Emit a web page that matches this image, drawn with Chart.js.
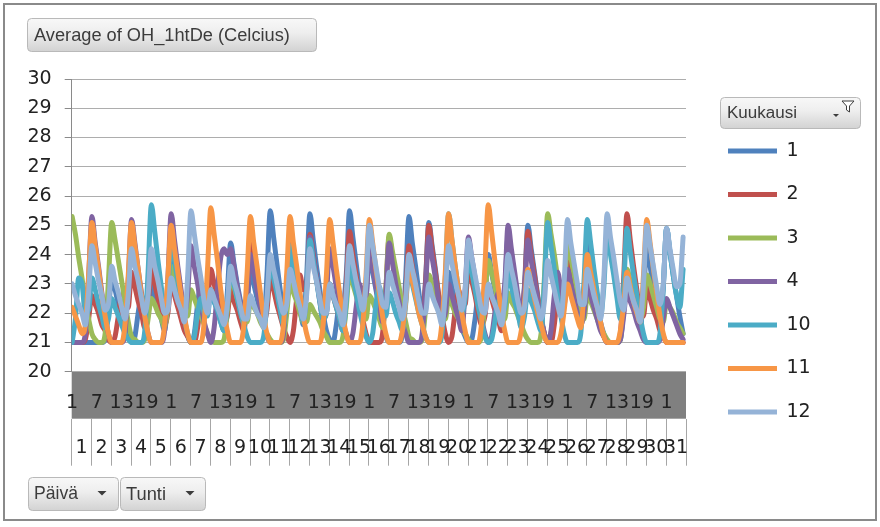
<!DOCTYPE html>
<html>
<head>
<meta charset="utf-8">
<script src="https://cdn.jsdelivr.net/npm/chart.js@4.4.1/dist/chart.umd.min.js"></script>
<style>
  html, body { margin: 0; padding: 0; background: #ffffff; }
  #wrap { width: 880px; height: 527px; position: relative; }
</style>
</head>
<body>
<div id="wrap"><canvas id="c" width="880" height="527"></canvas></div>
<script>
// Months shown as series (Kuukausi) and their colours
const months = ['1', '2', '3', '4', '10', '11', '12'];
const seriesColors = ['#4F81BD', '#C0504D', '#9BBB59', '#8064A2', '#4BACC6', '#F79646', '#95B3D7'];

// Category labels: days of month (Päivä) and hours of day (Tunti)
const dayLabels = ['1','2','3','4','5','6','7','8','9','10','11','12','13','14','15','16',
  '17','18','19','20','21','22','23','24','25','26','27','28','29','30','31'];
const hourLabels = ['1','2','3','4','5','6','7','8','9','10','11','12','13','14','15','16',
  '17','18','19','20','21','22','23','24'];
// hour-category positions that carry a label (every 30th hour)
const hourTickPositions = [0,30,60,90,120,150,180,210,240,270,300,330,360,390,420,450,
  480,510,540,570,600,630,660,690,720];
// readings per day taken at these hours
const sampleHours = [1, 5, 9, 13, 17, 21];

// Average temperature (°C), one row per day, values at sampleHours
const m1 = [
  21.0,21.0,21.0,21.0,21.0,21.0,  21.0,21.0,21.0,21.0,21.1,22.1,
  23.2,22.8,22.3,21.9,21.5,21.2,  21.0,21.2,22.0,22.6,22.3,22.0,
  23.0,22.6,22.2,21.8,21.4,22.6,  24.1,23.5,22.9,22.2,21.7,21.2,
  21.0,21.3,22.3,23.0,22.5,22.2,  22.8,22.4,22.1,21.7,21.4,22.7,
  24.4,23.7,23.0,22.4,21.7,22.3,  23.5,23.0,22.5,22.0,21.6,23.3,
  25.5,24.6,23.7,22.8,22.0,22.5,  23.9,23.3,22.7,22.2,21.6,23.2,
  25.4,24.5,23.6,22.8,22.0,21.4,  21.1,21.0,21.6,22.4,22.3,23.3,
  25.5,24.6,23.7,22.8,22.0,22.5,  24.0,23.4,22.8,22.2,21.7,21.2,
  21.0,21.0,21.0,21.0,21.3,23.2,  25.3,24.4,23.6,22.7,21.9,23.1,
  25.1,24.3,23.5,22.6,21.9,22.2,  23.4,22.9,22.4,22.0,21.5,21.2,
  21.0,21.1,21.8,22.6,22.2,22.5,  24.0,23.4,22.8,22.2,21.7,22.8,
  24.6,23.9,23.2,22.4,21.8,23.0,  25.0,24.2,23.4,22.6,21.9,21.3,
  21.0,21.3,22.2,22.9,22.4,22.4,  23.8,23.2,22.7,22.1,21.6,22.7,
  24.4,23.7,23.0,22.4,21.7,21.3,  21.0,21.0,21.0,21.0,21.1,22.1,
  23.2,22.8,22.3,21.9,21.5,22.6,  24.2,23.6,22.9,22.3,21.7,22.9,
  24.9,24.1,23.3,22.6,21.9,21.3
];
const m2 = [
  21.0,21.0,21.0,21.0,21.1,21.8,  22.6,22.3,22.0,21.6,21.4,21.1,
  21.0,21.2,21.9,22.6,22.2,22.2,  23.4,22.9,22.4,22.0,21.5,22.3,
  23.5,23.0,22.5,22.0,21.6,22.0,  23.0,22.6,22.2,21.8,21.4,21.2,
  21.0,21.0,21.5,22.3,21.9,22.3,  23.5,23.0,22.5,22.0,21.6,21.9,
  22.8,22.4,22.1,21.7,21.4,22.7,  24.4,23.7,23.0,22.4,21.7,22.1,
  23.2,22.8,22.3,21.9,21.5,21.2,  21.0,21.4,22.5,23.3,22.8,22.9,
  24.7,24.0,23.2,22.5,21.8,22.0,  23.0,22.6,22.2,21.8,21.4,22.9,
  24.8,24.0,23.3,22.5,21.8,21.3,  21.0,21.0,21.0,21.0,21.3,22.8,
  24.6,23.9,23.2,22.4,21.8,22.7,  24.3,23.6,23.0,22.3,21.7,23.0,
  25.0,24.2,23.4,22.6,21.9,21.3,  21.0,21.2,22.1,22.8,22.3,22.3,
  23.6,23.1,22.6,22.0,21.6,21.9,  22.9,22.5,22.1,21.8,21.4,22.5,
  24.0,23.4,22.8,22.2,21.7,22.9,  24.8,24.0,23.3,22.5,21.8,21.3,
  21.0,21.0,21.6,22.5,22.2,22.6,  24.2,23.6,22.9,22.3,21.7,22.2,
  23.3,22.8,22.4,21.9,21.5,21.2,  21.0,21.0,21.0,21.0,21.3,23.2,
  25.4,24.5,23.6,22.8,22.0,21.9,  22.9,22.5,22.1,21.8,21.4,21.2,
  21.0,21.0,21.0,21.0,21.0,21.0
];
const m3 = [
  25.3,24.7,23.9,23.2,22.4,21.8,  21.3,21.1,21.0,21.0,21.3,23.1,
  25.1,24.5,23.8,23.1,22.4,21.7,  21.2,21.1,21.0,21.0,21.1,21.8,
  22.5,22.3,22.0,21.8,21.5,22.3,  23.6,23.2,22.8,22.3,21.9,21.9,
  22.8,22.5,22.2,21.9,21.6,21.3,  21.1,21.0,21.0,21.0,21.1,22.1,
  23.2,22.9,22.5,22.1,21.7,21.7,  22.4,22.2,22.0,21.7,21.5,21.3,
  21.1,21.0,21.0,21.0,21.1,22.0,  23.0,22.7,22.4,22.0,21.7,21.7,
  22.3,22.1,21.9,21.7,21.4,21.2,  21.0,21.0,21.0,21.0,21.2,22.2,
  23.4,23.0,22.6,22.2,21.8,21.8,  22.6,22.4,22.1,21.8,21.5,22.8,
  24.7,24.1,23.5,22.9,22.2,21.7,  21.2,21.1,21.0,21.0,21.1,22.1,
  23.3,23.0,22.6,22.2,21.8,21.8,  22.5,22.3,22.0,21.8,21.5,21.3,
  21.1,21.0,21.0,21.0,21.2,22.4,  23.8,23.4,22.9,22.4,21.9,21.8,
  22.7,22.4,22.2,21.9,21.6,21.3,  21.1,21.0,21.0,21.0,21.3,23.2,
  25.4,24.7,24.0,23.2,22.4,22.7,  24.4,23.9,23.3,22.7,22.1,21.8,
  22.6,22.4,22.1,21.8,21.5,21.3,  21.1,21.0,21.0,21.0,21.1,22.3,
  23.5,23.1,22.7,22.3,21.8,22.2,  23.3,23.0,22.6,22.2,21.8,21.7,
  22.4,22.2,22.0,21.7,21.5,21.3
];
const m4 = [
  21.0,21.0,21.0,21.0,21.3,23.2,  25.3,24.4,23.6,22.7,21.9,21.3,
  21.0,21.0,21.0,21.0,21.3,23.1,  25.2,24.4,23.5,22.7,21.9,21.3,
  21.0,21.0,21.0,21.0,21.4,23.2,  25.4,24.5,23.6,22.8,22.0,22.7,
  24.3,23.6,23.0,22.3,21.7,21.3,  21.0,21.5,22.8,23.9,24.2,24.0,
  24.2,23.6,22.9,22.3,21.7,22.5,  24.0,23.4,22.8,22.2,21.7,21.2,
  21.0,21.0,21.0,21.0,21.3,22.9,  24.8,24.0,23.3,22.5,21.8,22.8,
  24.6,23.9,23.2,22.4,21.8,22.6,  24.2,23.6,22.9,22.3,21.7,21.3,
  21.0,21.3,22.2,23.0,22.6,22.6,  24.2,23.6,22.9,22.3,21.7,22.7,
  24.4,23.7,23.0,22.4,21.7,21.3,  21.0,21.0,21.0,21.0,21.3,22.8,
  24.6,23.9,23.2,22.4,21.8,22.0,  23.0,22.6,22.2,21.8,21.4,22.8,
  24.6,23.9,23.2,22.4,21.8,21.3,  21.0,21.2,22.0,22.7,22.4,23.0,
  25.0,24.2,23.4,22.6,21.9,22.8,  24.5,23.8,23.1,22.4,21.8,21.3,
  21.0,21.4,22.6,23.4,22.8,22.3,  23.5,23.0,22.5,22.0,21.6,22.0,
  23.0,22.6,22.2,21.8,21.4,21.2,  21.0,21.0,21.0,21.0,21.1,21.9,
  22.8,22.4,22.1,21.7,21.4,21.1,  21.0,21.0,21.0,21.0,21.1,21.8,
  22.5,22.2,21.9,21.6,21.3,21.1
];
const m10 = [
  21.0,21.8,23.2,23.0,22.0,22.1,  23.2,22.8,22.3,21.9,21.5,21.8,
  22.5,22.2,21.9,21.6,21.3,21.1,  21.0,21.0,21.0,21.0,21.4,23.4,
  25.7,24.8,23.8,22.9,22.0,22.8,  24.5,23.8,23.1,22.4,21.8,21.3,
  21.0,21.2,22.0,22.5,22.0,21.9,  22.8,22.4,22.1,21.7,21.4,22.3,
  23.5,23.0,22.5,22.0,21.6,21.2,  21.0,21.0,21.0,21.0,21.2,22.4,
  23.8,23.2,22.7,22.1,21.6,22.7,  24.3,23.6,23.0,22.3,21.7,22.8,
  24.5,23.8,23.1,22.4,21.8,22.0,  23.0,22.6,22.2,21.8,21.4,22.4,
  23.8,23.2,22.7,22.1,21.6,21.2,  21.0,21.3,22.3,22.9,22.3,21.9,
  22.7,22.4,22.0,21.7,21.4,22.3,  23.5,23.0,22.5,22.0,21.6,21.2,
  21.0,21.0,21.0,21.0,21.3,23.2,  25.4,24.5,23.6,22.8,22.0,22.5,
  24.0,23.4,22.8,22.2,21.7,21.2,  21.0,21.1,21.7,22.4,22.0,22.2,
  23.4,22.9,22.4,22.0,21.5,21.9,  22.8,22.4,22.1,21.7,21.4,23.0,
  25.1,24.3,23.5,22.6,21.9,21.3,  21.0,21.0,21.0,21.0,21.3,23.1,
  25.2,24.4,23.5,22.7,21.9,22.9,  24.8,24.0,23.3,22.5,21.8,22.9,
  24.9,24.1,23.3,22.6,21.9,21.3,  21.0,21.0,21.0,21.0,21.3,22.9,
  24.9,24.1,23.3,22.6,22.2,23.5
];
const m11 = [
  22.2,21.9,21.6,21.3,21.6,23.3,  25.1,24.3,23.5,22.6,21.9,21.3,
  21.0,21.0,21.0,21.0,21.6,23.3,  25.1,24.3,23.5,22.6,21.9,21.3,
  21.0,21.0,21.0,21.0,21.6,23.2,  25.0,24.2,23.4,22.6,21.9,21.3,
  21.0,21.0,21.0,21.0,21.7,23.5,  25.6,24.7,23.8,22.8,22.0,21.4,
  21.0,21.0,21.0,21.0,21.6,23.4,  25.3,24.4,23.6,22.7,21.9,21.3,
  21.0,21.0,21.0,21.0,21.6,23.4,  25.3,24.4,23.6,22.7,21.9,21.3,
  21.0,21.0,21.0,21.0,21.6,23.3,  25.2,24.4,23.5,22.7,21.9,21.3,
  21.0,21.0,21.0,21.0,21.6,23.3,  25.2,24.4,23.5,22.7,21.9,21.3,
  21.0,21.0,21.0,21.0,21.4,22.4,  23.6,23.1,22.6,22.0,21.6,21.2,
  21.0,21.0,21.0,21.0,21.7,23.4,  25.4,24.5,23.6,22.8,22.0,21.4,
  21.0,21.0,21.0,21.0,21.7,23.6,  25.7,24.8,23.8,22.9,22.0,21.4,
  21.0,21.0,21.0,21.0,21.4,22.4,  23.5,23.0,22.5,22.0,21.6,21.2,
  21.0,21.0,21.0,21.0,21.3,22.1,  23.0,22.6,22.2,21.8,21.5,22.7,
  24.0,23.4,22.8,22.2,21.7,21.2,  21.0,21.0,21.0,21.0,21.4,22.3,
  23.4,22.9,22.4,22.0,21.7,23.3,  25.2,24.4,23.5,22.7,21.9,21.3,
  21.0,21.0,21.0,21.0,21.0,21.0
];
const m12 = [
  23.0,22.6,22.3,22.0,21.6,22.7,  24.3,23.7,23.1,22.6,22.1,22.3,
  23.6,23.1,22.7,22.2,21.8,22.6,  24.2,23.6,23.1,22.5,22.0,22.6,
  24.2,23.6,23.1,22.5,22.0,22.1,  23.2,22.8,22.4,22.1,21.7,23.3,
  25.5,24.7,23.9,23.2,22.4,22.0,  22.8,22.5,22.2,21.9,21.6,22.3,
  23.6,23.1,22.7,22.2,21.8,21.8,  22.6,22.3,22.0,21.8,21.5,22.5,
  24.0,23.5,23.0,22.4,22.0,22.3,  23.5,23.1,22.6,22.2,21.8,22.6,
  24.2,23.6,23.1,22.5,22.0,22.0,  23.0,22.6,22.3,22.0,21.6,22.7,
  24.3,23.7,23.1,22.6,22.1,23.0,  25.0,24.3,23.6,22.9,22.3,22.2,
  23.4,23.0,22.6,22.2,21.8,22.5,  24.0,23.5,23.0,22.4,22.0,22.0,
  23.0,22.6,22.3,22.0,21.6,22.7,  24.3,23.7,23.1,22.6,22.1,22.8,
  24.5,23.9,23.3,22.7,22.1,22.0,  23.0,22.6,22.3,22.0,21.6,22.5,
  24.0,23.5,23.0,22.4,22.0,22.2,  23.4,23.0,22.6,22.2,21.8,22.4,
  23.8,23.3,22.8,22.3,21.9,23.1,  25.2,24.4,23.7,23.0,22.3,22.3,
  23.5,23.1,22.6,22.2,21.8,23.2,  25.4,24.6,23.9,23.1,22.4,22.1,
  23.2,22.8,22.4,22.1,21.7,23.0,  25.0,24.3,23.6,22.9,22.3,23.0,
  24.9,24.2,23.5,22.9,23.0,24.6
];
const monthValues = [m1, m2, m3, m4, m10, m11, m12];

// ---- build datasets: x = hour index within the month (0..743) ----
function toPoints(values) {
  return values.map((v, i) => {
    const day = Math.floor(i / sampleHours.length);
    const hour = sampleHours[i % sampleHours.length];
    return { x: day * 24 + (hour - 1), y: v };
  });
}

const datasets = months.map((m, i) => ({
  label: m,
  data: toPoints(monthValues[i]),
  borderColor: seriesColors[i],
  backgroundColor: seriesColors[i],
  borderWidth: 5,
  borderCapStyle: 'round',
  borderJoinStyle: 'round',
  pointRadius: 0,
  pointHoverRadius: 0,
  fill: false,
  cubicInterpolationMode: 'monotone',
  order: months.length - i,
  xAxisID: 'x',
  yAxisID: 'y'
}));

// ---- decorations: pivot field buttons, grey hour band, frame ----
function fieldButton(ctx, x, y, w, h, text, textX, targetWidth) {
  const g = ctx.createLinearGradient(0, y, 0, y + h);
  g.addColorStop(0, '#F8F8F8');
  g.addColorStop(0.45, '#EEEEEE');
  g.addColorStop(1, '#D3D3D3');
  ctx.save();
  ctx.beginPath();
  ctx.roundRect(x + 0.5, y + 0.5, w, h, 4);
  ctx.fillStyle = g;
  ctx.fill();
  ctx.strokeStyle = '#B9B9B9';
  ctx.lineWidth = 1;
  ctx.stroke();
  let size = 17;
  ctx.font = size + 'px "Liberation Sans"';
  if (targetWidth) {
    size = size * targetWidth / ctx.measureText(text).width;
    ctx.font = size.toFixed(2) + 'px "Liberation Sans"';
  }
  ctx.fillStyle = '#3C3C3C';
  ctx.textBaseline = 'middle';
  ctx.textAlign = 'left';
  ctx.fillText(text, textX, y + h / 2 + 1);
  ctx.restore();
}

function dropArrow(ctx, cx, cy) {
  ctx.save();
  ctx.fillStyle = '#3C3C3C';
  ctx.beginPath();
  ctx.moveTo(cx - 4.5, cy - 2);
  ctx.lineTo(cx + 4.5, cy - 2);
  ctx.lineTo(cx, cy + 2.5);
  ctx.closePath();
  ctx.fill();
  ctx.restore();
}

function filterIcon(ctx, x, y) {
  ctx.save();
  ctx.strokeStyle = '#3C3C3C';
  ctx.lineWidth = 1;
  ctx.beginPath();
  ctx.moveTo(x, y);
  ctx.lineTo(x + 12, y);
  ctx.lineTo(x + 7.5, y + 5);
  ctx.lineTo(x + 7.5, y + 11);
  ctx.lineTo(x + 4.5, y + 9);
  ctx.lineTo(x + 4.5, y + 5);
  ctx.closePath();
  ctx.fillStyle = '#FFFFFF';
  ctx.fill();
  ctx.stroke();
  ctx.fillStyle = '#3C3C3C';
  ctx.beginPath();
  ctx.moveTo(x - 9, y + 13);
  ctx.lineTo(x - 3, y + 13);
  ctx.lineTo(x - 6, y + 16);
  ctx.closePath();
  ctx.fill();
  ctx.restore();
}

const pivotDecor = {
  id: 'pivotDecor',
  beforeDraw(chart) {
    const { ctx, chartArea } = chart;
    const xs = chart.scales.x;
    ctx.save();
    ctx.fillStyle = '#FFFFFF';
    ctx.fillRect(0, 0, chart.width, chart.height);
    // dark band behind the hour labels
    ctx.fillStyle = '#808080';
    ctx.fillRect(chartArea.left, xs.top, chartArea.right - chartArea.left, xs.bottom - xs.top);
    ctx.restore();
  },
  afterDraw(chart) {
    const ctx = chart.ctx;
    fieldButton(ctx, 27, 18, 289, 33, 'Average of OH_1htDe (Celcius)', 34, 256);
    fieldButton(ctx, 720, 97, 140, 31, 'Kuukausi', 727, 70);
    filterIcon(ctx, 842, 101);
    fieldButton(ctx, 28, 477, 90, 33, 'Päivä', 34, 44);
    dropArrow(ctx, 102, 493);
    fieldButton(ctx, 120, 477, 85, 33, 'Tunti', 126, 40);
    dropArrow(ctx, 190, 493);
    ctx.save();
    ctx.strokeStyle = '#8A8A8A';
    ctx.lineWidth = 2;
    ctx.strokeRect(4, 4, 872, 516);
    ctx.restore();
  }
};

const labelFont = { family: '"DejaVu Sans"', size: 19 };
const textColor = '#222222';

// legend geometry: first key line starts at x = 728, rows 43.5 px apart
const legendPad = 24.5;
const keyWidth = 49;

function build() {
  const mctx = document.createElement('canvas').getContext('2d');
  mctx.font = labelFont.size + 'px ' + labelFont.family;
  const maxTextW = Math.max(...months.map(m => mctx.measureText(m).width));
  const legendW = legendPad + keyWidth + labelFont.size / 2 + maxTextW + 10;
  const legendLeft = 728 - legendPad;
  const padRight = 880 - legendLeft - legendW;

  new Chart(document.getElementById('c'), {
    type: 'line',
    data: { datasets },
    plugins: [pivotDecor],
    options: {
      responsive: false,
      animation: false,
      devicePixelRatio: 1,
      layout: { padding: { left: 10, top: 79, right: padRight, bottom: 61.3 } },
      events: [],
      plugins: {
        tooltip: { enabled: false },
        title: { display: false },
        legend: {
          position: 'right',
          align: 'start',
          title: { display: true, text: '', font: { size: 10 }, padding: { top: 0, bottom: 26 } },
          labels: {
            usePointStyle: true,
            pointStyle: 'line',
            pointStyleWidth: keyWidth,
            padding: legendPad,
            color: textColor,
            font: labelFont,
            sort: (a, b) => a.datasetIndex - b.datasetIndex
          }
        }
      },
      scales: {
        x: {
          type: 'linear',
          position: 'bottom',
          weight: 0,
          min: -0.5,
          max: 743.5,
          grid: { display: false, drawTicks: false },
          border: { display: false },
          afterBuildTicks: (s) => { s.ticks = hourTickPositions.map(v => ({ value: v })); },
          afterFit: (s) => { s.height = 47; },
          ticks: {
            autoSkip: false,
            maxRotation: 0,
            minRotation: 0,
            padding: 20,
            color: textColor,
            font: labelFont,
            callback: (v) => hourLabels[v % 24]
          }
        },
        x2: {
          type: 'category',
          labels: dayLabels,
          position: 'bottom',
          weight: 1,
          offset: true,
          grid: {
            offset: true,
            drawOnChartArea: false,
            drawTicks: true,
            tickLength: 47,
            color: '#A6A6A6'
          },
          border: { display: false },
          afterFit: (s) => { s.height = 47; },
          ticks: {
            autoSkip: false,
            maxRotation: 0,
            minRotation: 0,
            padding: -29,
            color: textColor,
            font: labelFont
          }
        },
        y: {
          type: 'linear',
          position: 'left',
          min: 20,
          max: 30,
          afterFit: (s) => { s.width = 61.7; },
          grid: { color: '#ADADAD', tickColor: '#8A8A8A', tickLength: 7 },
          border: { color: '#8A8A8A' },
          ticks: { stepSize: 1, padding: 13, color: textColor, font: labelFont }
        },
        yGap: {
          type: 'linear',
          position: 'right',
          display: true,
          grid: { display: false, drawTicks: false },
          border: { display: false },
          ticks: { display: false },
          afterFit: (s) => { s.width = legendLeft - 686; }
        }
      }
    }
  });
}

Promise.all([
  document.fonts.load('19px "DejaVu Sans"'),
  document.fonts.load('17px "Liberation Sans"')
]).then(build, build);
</script>
</body>
</html>
